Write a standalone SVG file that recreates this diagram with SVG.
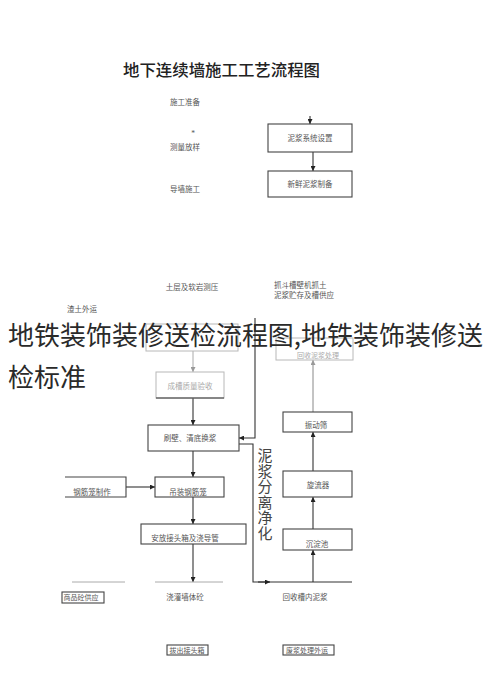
<svg xmlns="http://www.w3.org/2000/svg" width="490" height="698" viewBox="0 0 490 698">
<style>
.bg{fill:#ffffff}
.box{fill:none;stroke:#444;stroke-width:1.1}
.gbox{fill:none;stroke:#b8b8b8;stroke-width:1}
.t{font-family:"Liberation Serif","Noto Sans CJK SC",serif;font-size:7.5px;fill:#555;text-anchor:middle}
.tg{font-family:"Liberation Serif","Noto Sans CJK SC",serif;font-size:7.5px;fill:#aaa;text-anchor:middle}
.ln{fill:none;stroke:#333;stroke-width:1.1}
.lg{fill:none;stroke:#aaa;stroke-width:1}
.title{font-family:"Liberation Serif","Noto Sans CJK SC",serif;font-size:16px;font-weight:500;fill:#222}
.big{font-family:"Noto Sans CJK SC",sans-serif;font-size:26px;fill:#2a2a2a}
.vt{font-family:"Liberation Serif","Noto Sans CJK SC",serif;font-size:15px;fill:#444;text-anchor:middle}
</style>
<defs>
<marker id="ah" viewBox="0 0 10 10" refX="10" refY="5" markerWidth="5" markerHeight="5" orient="auto" markerUnits="userSpaceOnUse">
<path d="M0,0 L10,5 L0,10 z" fill="#222"/>
</marker>
<marker id="ahg" viewBox="0 0 10 10" refX="10" refY="5" markerWidth="5" markerHeight="5" orient="auto" markerUnits="userSpaceOnUse">
<path d="M0,0 L10,5 L0,10 z" fill="#999"/>
</marker>
</defs>
<rect class="bg" x="0" y="0" width="490" height="698"/>
<text class="title" x="123" y="76" textLength="197" lengthAdjust="spacingAndGlyphs">地下连续墙施工工艺流程图</text>

<g id="labels">
<text class="t" x="185" y="105">施工准备</text>
<text class="t" x="193" y="136">*</text>
<text class="t" x="185" y="150">测量放样</text>
<text class="t" x="185" y="192">导墙施工</text>
<text class="t" x="192" y="290">土层及软岩测压</text>
<text class="t" x="274" y="288" style="text-anchor:start">抓斗槽壁机抓土</text>
<text class="t" x="274" y="298" style="text-anchor:start">泥浆贮存及槽供应</text>
<text class="t" x="82" y="312">渣土外运</text>
<text class="t" x="185" y="600">浇灌墙体砼</text>
<text class="t" x="305" y="600">回收槽内泥浆</text>
</g>

<g id="connectors">
<line class="ln" x1="310" y1="116" x2="310" y2="124" marker-end="url(#ah)"/>
<line class="ln" x1="313" y1="152" x2="313" y2="171" marker-end="url(#ah)"/>
<line class="lg" x1="193" y1="351" x2="193" y2="372" marker-end="url(#ahg)"/>
<line class="ln" x1="193" y1="398" x2="193" y2="425" marker-end="url(#ah)"/>
<path class="ln" d="M255,318 V438 H239" marker-end="url(#ah)"/>
<path class="ln" d="M239,444 H253 V582 H352"/>
<line class="ln" x1="258" y1="582" x2="270" y2="582" marker-end="url(#ah)"/>
<line class="ln" x1="193" y1="451" x2="193" y2="477" marker-end="url(#ah)"/>
<line class="ln" x1="126" y1="487" x2="155" y2="487" marker-end="url(#ah)"/>
<line class="ln" x1="193" y1="497" x2="193" y2="524" marker-end="url(#ah)"/>
<line class="ln" x1="193" y1="544" x2="193" y2="582" marker-end="url(#ah)"/>
<line class="ln" x1="313" y1="582" x2="313" y2="550" marker-end="url(#ah)"/>
<line class="ln" x1="313" y1="529" x2="313" y2="497" marker-end="url(#ah)"/>
<line class="ln" x1="313" y1="471" x2="313" y2="432" marker-end="url(#ah)"/>
<line x1="313" y1="412" x2="313" y2="360" stroke="#888" stroke-width="1" marker-end="url(#ahg)"/>
<line class="lg" x1="72" y1="582" x2="125" y2="582"/>
<line class="lg" x1="155" y1="582" x2="223" y2="582"/>
</g>

<g id="n-nijiang-shezhi">
<rect class="box" x="268" y="124" width="84" height="28"/>
<text class="t" x="310" y="141">泥浆系统设置</text>
</g>
<g id="n-xinxian-nijiang">
<rect class="box" x="268" y="171" width="84" height="26"/>
<text class="t" x="310" y="187">新鲜泥浆制备</text>
</g>
<g id="n-hidden-box">
<rect class="gbox" x="146" y="324" width="92" height="27"/>
</g>
<g id="n-chengcao">
<rect class="gbox" x="156" y="372" width="68" height="26"/>
<line x1="156" y1="398" x2="224" y2="398" stroke="#333" stroke-width="1.2"/>
<text class="tg" x="190" y="389">成槽质量验收</text>
</g>
<g id="n-huishou">
<rect class="gbox" x="276" y="338" width="77" height="22"/>
<text class="tg" x="318" y="357.5" style="font-size:7px">回收泥浆处理</text>
</g>
<g id="n-shuabi">
<rect class="box" x="148" y="425" width="91" height="26"/>
<text class="t" x="190" y="441">刷壁、清底换浆</text>
</g>
<g id="n-zhendongshai">
<rect class="box" x="283" y="412" width="69" height="20"/>
<text class="t" x="316" y="428">振动筛</text>
</g>
<g id="n-diaozhuang">
<rect class="box" x="155" y="477" width="69" height="20"/>
<text class="t" x="188" y="495">吊装钢筋笼</text>
</g>
<g id="n-gangjinlong">
<path class="box" d="M65,477 H126 V497 H65"/>
<text class="t" x="92" y="495">钢筋笼制作</text>
</g>
<g id="n-xuanliuqi">
<rect class="box" x="283" y="471" width="69" height="26"/>
<text class="t" x="318" y="488">旋流器</text>
</g>
<g id="n-anfang">
<rect class="box" x="141" y="524" width="105" height="20"/>
<text class="t" x="185" y="541">安放接头箱及浇导管</text>
</g>
<g id="n-chendianchi">
<rect class="box" x="283" y="529" width="69" height="21"/>
<text class="t" x="317" y="547">沉淀池</text>
</g>
<g id="n-shangpin">
<rect class="box" x="62" y="592" width="42" height="11" stroke-width="0.8"/>
<text class="t" x="81" y="600" style="font-size:7px">商品砼供应</text>
</g>
<g id="n-bachu">
<rect class="box" x="167" y="645" width="41" height="10" stroke-width="0.8"/>
<text class="t" x="187" y="653" style="font-size:7px">拔出接头箱</text>
</g>
<g id="n-feijiang">
<rect class="box" x="283" y="645" width="51" height="10" stroke-width="0.8"/>
<text class="t" x="307" y="653" style="font-size:7px">废浆处理外运</text>
</g>

<g id="vertical-label">
<text class="vt" x="265" y="461">泥</text>
<text class="vt" x="265" y="476.6">浆</text>
<text class="vt" x="265" y="492.2">分</text>
<text class="vt" x="265" y="507.8">离</text>
<text class="vt" x="265" y="523.4">净</text>
<text class="vt" x="265" y="539">化</text>
</g>

<g id="overlay">
<text class="big" x="8" y="345" textLength="475" lengthAdjust="spacingAndGlyphs">地铁装饰装修送检流程图,地铁装饰装修送</text>
<text class="big" x="8" y="387">检标准</text>
</g>
</svg>
